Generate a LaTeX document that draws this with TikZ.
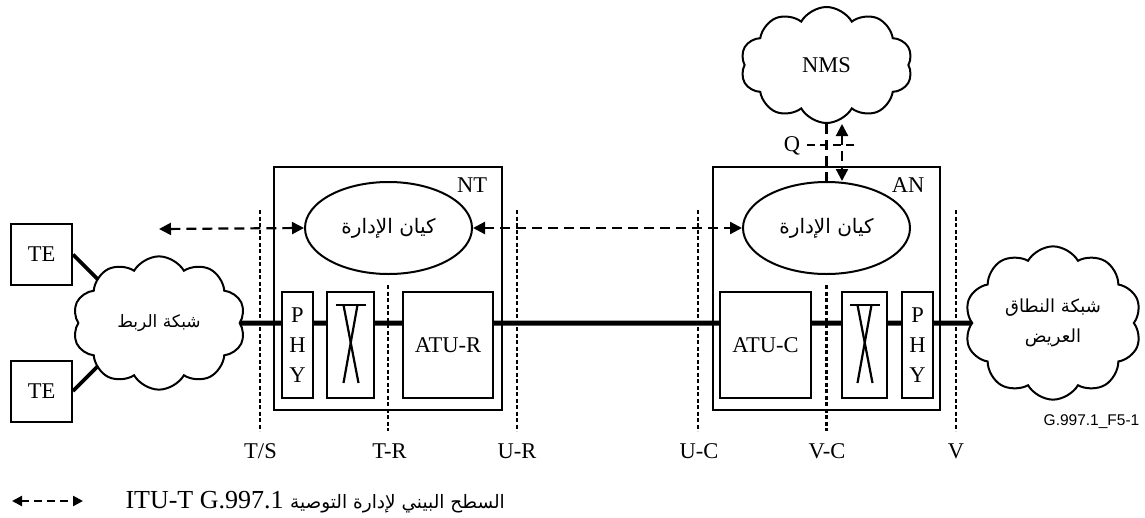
\documentclass[tikz,border=0pt]{standalone}
\usepackage{fontspec}
\setmainfont{Liberation Serif}
\newfontfamily\arabicfont[Script=Arabic]{DejaVu Sans}
\newfontfamily\sansf{Liberation Sans}
\TeXXeTstate=1
\usetikzlibrary{shapes.geometric,shapes.symbols,arrows.meta,backgrounds,calc}
\tikzset{
  mt/.tip={Triangle[length=12pt,width=12pt]},
  lt/.tip={Triangle[length=10pt,width=10pt]},
  lbl/.style={inner sep=0pt, font=\fontsize{22.5}{30}\selectfont},
  frame/.style={draw, line width=1.9pt, inner sep=0pt},
  unitbox/.style={draw, line width=2.8pt, inner sep=0pt, fill=white, minimum height=106pt, align=center, font=\fontsize{22.5}{30}\selectfont},
  tebox/.style={draw, line width=2pt, inner sep=0pt, fill=white, minimum width=61pt, minimum height=61pt, font=\fontsize{22.5}{30}\selectfont},
  cloudn/.style={cloud, draw, line width=2pt, cloud puffs=10, cloud puff arc=120, inner sep=0pt, fill=white, align=center},
  mgmt/.style={ellipse, draw, line width=2pt, minimum width=167pt, minimum height=92pt, inner sep=0pt, fill=white, font=\arabicfont\fontsize{20}{30}\selectfont},
  dotln/.style={line width=2.2pt, dash pattern=on 4pt off 2.5pt},
  dashln/.style={line width=2.2pt, dash pattern=on 10pt off 6pt},
  mainln/.style={line width=5pt},
  teln/.style={line width=3.8pt},
  xsym/.style={line width=2.2pt},
  reflbl/.style={inner sep=0pt, anchor=base, font=\fontsize{22.5}{30}\selectfont}
}
\begin{document}
\begin{tikzpicture}[x=1pt,y=-1pt]
\useasboundingbox (0,0) rectangle (1145,517);

% terminals and clouds
\node[tebox] (te1) at (41.5,254.5) {TE};
\node[tebox] (te2) at (41.5,391) {TE};
\node[cloudn, font=\arabicfont\fontsize{17}{30}\selectfont, minimum width=173pt, minimum height=114pt] (cl) at (159,323) {\beginR شبكة الربط\endR};
\node[cloudn, font=\arabicfont\fontsize{18}{30}\selectfont, minimum width=177pt, minimum height=118pt] (cr) at (1053,323) {\beginR شبكة النطاق\endR\\\beginR العريض\endR};
\node[cloudn, lbl, minimum width=172pt, minimum height=116pt] (nms) at (826.5,65) {NMS};

% NT
\node[frame, minimum width=228pt, minimum height=243pt] (nt) at (388,288.5) {};
\node[lbl] (ntl) at (472,185) {NT};
\node[mgmt] (nte) at (388.5,228) {\beginR كيان الإدارة\endR};
\node[unitbox, minimum width=31pt] (phy1) at (297.5,345) {P\\H\\Y};
\node[unitbox, minimum width=47pt] (x1) at (350.5,345) {};
\node[unitbox, minimum width=90pt] (atur) at (448,345) {ATU-R};

% AN
\node[frame, minimum width=227pt, minimum height=243pt] (an) at (826.5,288.5) {};
\node[lbl] (anl) at (908,185) {AN};
\node[mgmt] (ane) at (826.5,228) {\beginR كيان الإدارة\endR};
\node[unitbox, minimum width=91pt] (atuc) at (765.5,345) {ATU-C};
\node[unitbox, minimum width=45pt] (x2) at (864.5,345) {};
\node[unitbox, minimum width=31pt] (phy2) at (917.5,345) {P\\H\\Y};

% cross symbols
\foreach \b in {x1,x2}{
  \draw[xsym] ($(\b.center)+(-15,-40)$) -- ($(\b.center)+(15,-40)$);
  \draw[xsym] ($(\b.center)+(-7,-40)$) -- ($(\b.center)+(8,38)$);
  \draw[xsym] ($(\b.center)+(7,-40)$) -- ($(\b.center)+(-7,38)$);
}

% background: main line and TE links
\begin{scope}[on background layer]
  \fill[white] (0,0) rectangle (1145,517);
  \draw[mainln] (cl.east) -- (cr.west);
  \draw[teln] (te1.east) -- ++(45,45);
  \draw[teln] (te2.east) -- ++(45,-45);
\end{scope}

% reference points
\coordinate (ts1) at (260,210);  \coordinate (ts2) at (260,431);
\coordinate (tr1) at (388,285);  \coordinate (tr2) at (388,431);
\coordinate (ur1) at (517,210);  \coordinate (ur2) at (517,431);
\coordinate (uc1) at (698,210);  \coordinate (uc2) at (698,431);
\coordinate (vc1) at (826.5,285);\coordinate (vc2) at (826.5,431);
\coordinate (v1) at (956,210);   \coordinate (v2) at (956,431);
\foreach \p in {ts,tr,ur,uc,vc,v}{\draw[dotln] (\p1) -- (\p2);}
\node[reflbl] (lts) at (260.5,458) {T/S};
\node[reflbl] (ltr) at (389.5,458) {T-R};
\node[reflbl] (lur) at (517,458) {U-R};
\node[reflbl] (luc) at (699,458) {U-C};
\node[reflbl] (lvc) at (827,458) {V-C};
\node[reflbl] (lv) at (956,458) {V};

% management arrows
\coordinate (la) at (159,229);
\draw[dashln, mt-mt] (la) -- (nte.west);
\draw[dashln, mt-mt] (nte.east) -- (ane.west);
\draw[dashln] (nms.south) -- (ane.north);
\coordinate (qx) at (842,0);
\draw[dashln, mt-mt] (nms.south -| qx) -- (ane.north -| qx);
\node[lbl] (ql) at (792,146) {Q};
\coordinate (q1) at (807,145); \coordinate (q2) at (857,145);
\draw[line width=2.2pt, dash pattern=on 8pt off 5pt] (q1) -- (q2);

% figure id
\node[inner sep=0pt, font=\sansf\fontsize{15.5}{18}\selectfont] (fid) at (1091.5,422) {G.997.1\_F5-1};

% legend
\coordinate (lg1) at (12,501); \coordinate (lg2) at (83,501);
\draw[line width=2.2pt, dash pattern=on 8pt off 5pt, lt-lt] (lg1) -- (lg2);
\node[inner sep=0pt, anchor=base east, font=\fontsize{26}{30}\selectfont] (leg) at (505,508) {\beginR{\arabicfont\fontsize{18.5}{30}\selectfont السطح البيني لإدارة التوصية} \beginL ITU-T G.997.1\endL\endR};
\end{tikzpicture}
\end{document}
